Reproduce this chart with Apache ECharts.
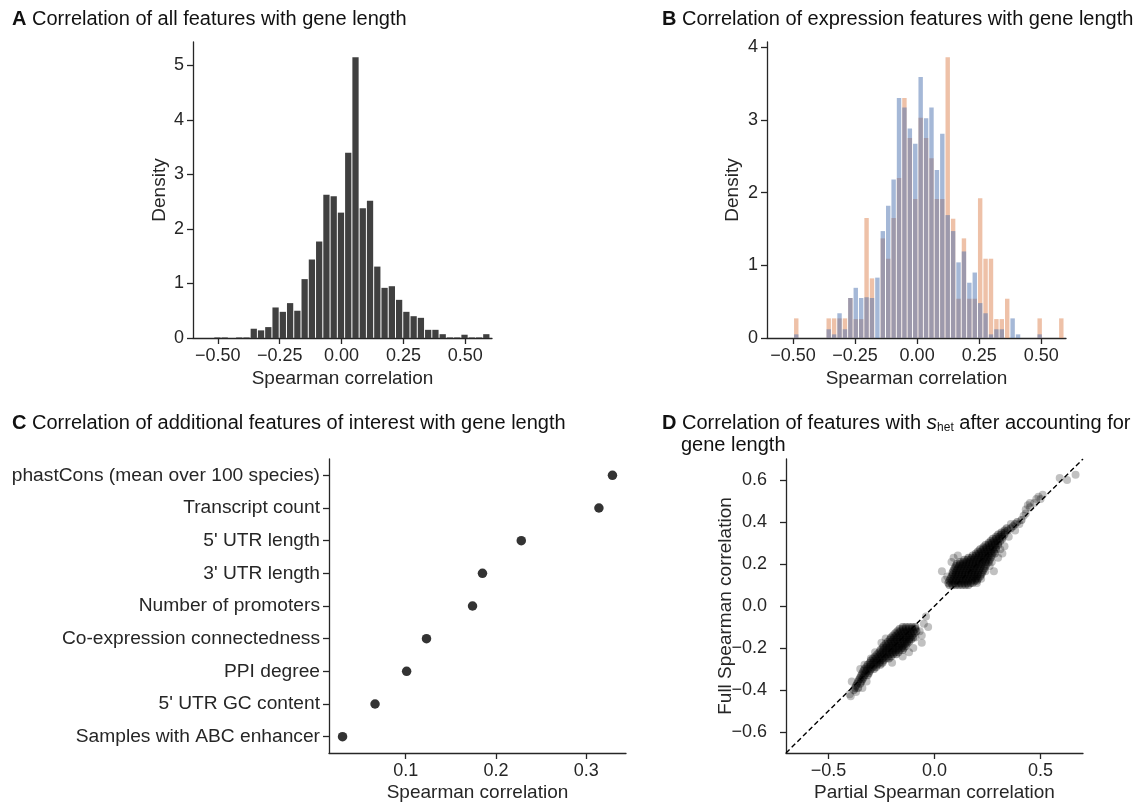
<!DOCTYPE html>
<html><head><meta charset="utf-8">
<script src="https://cdn.jsdelivr.net/npm/echarts@6/dist/echarts.min.js"></script>
<style>html,body{margin:0;padding:0;background:#fff}#c{width:1141px;height:806px}</style>
</head><body><div id="c"></div>
<script>
// ---------- Panel A: all features ----------
const allBinStart = -0.516, allBinWidth = 0.02935;
const allDensity = [0.01,0.01,0,0.01,0.01,0.17,0.14,0.2,0.56,0.48,0.64,0.5,1.08,1.44,1.77,2.63,2.6,2.3,3.4,5.15,2.38,2.52,1.31,0.92,0.95,0.7,0.48,0.4,0.37,0.15,0.15,0.07,0.01,0.01,0.06,0.01,0.01,0.07];
// ---------- Panel B: expression features (two groups) ----------
const exprBinStart = -0.498, exprBinWidth = 0.0218;
const exprOrange = [0.27,0,0,0,0,0,0.27,0.27,0.27,0.27,0.55,0.26,0.26,1.65,0.82,0,1.37,1.09,1.65,2.2,3.3,2.75,1.91,3.03,2.75,2.47,1.91,1.91,3.86,1.64,0.54,1.37,0.54,0.54,1.92,1.09,1.09,0.26,0.26,0.54,0,0,0,0,0,0.27,0,0,0,0.27];
const exprBlue = [0.05,0,0,0,0,0,0.12,0.05,0.34,0.12,0.55,0.69,0.55,0.56,0.55,0.83,1.47,1.82,2.18,3.3,3.17,2.88,2.67,3.59,3.02,3.17,2.31,2.81,1.69,1.47,1.04,1.19,0.76,0.9,0.48,0.34,0.05,0.12,0.12,0,0.27,0.05,0,0,0,0.05,0,0,0,0];
const histXTicks = [-0.5,-0.25,0,0.25,0.5];
const histAYTicks = [0,1,2,3,4,5];
const histBYTicks = [0,1,2,3,4];
// ---------- Panel C ----------
const featureNames = ['phastCons (mean over 100 species)','Transcript count',"5' UTR length","3' UTR length",'Number of promoters','Co-expression connectedness','PPI degree',"5' UTR GC content",'Samples with ABC enhancer'];
const featureCorr = [0.329,0.314,0.228,0.185,0.174,0.123,0.101,0.066,0.030];
const featXTicks = [0.1,0.2,0.3];
// ---------- Panel D: partial vs full correlation ----------
const shetPosRows = [
 [0.10,[0.07,0.085,0.1,0.115,0.13,0.145,0.16]],
 [0.11,[0.065,0.08,0.095,0.11,0.125,0.14,0.155,0.17,0.18]],
 [0.12,[0.07,0.085,0.1,0.115,0.13,0.145,0.16,0.175,0.19,0.2]],
 [0.13,[0.075,0.09,0.105,0.12,0.135,0.15,0.165,0.18,0.195,0.205]],
 [0.14,[0.08,0.095,0.11,0.125,0.14,0.155,0.17,0.185,0.2,0.215]],
 [0.15,[0.085,0.1,0.115,0.13,0.145,0.16,0.175,0.19,0.205,0.22]],
 [0.16,[0.085,0.1,0.115,0.13,0.145,0.16,0.175,0.19,0.205,0.225]],
 [0.17,[0.09,0.105,0.12,0.135,0.15,0.165,0.18,0.195,0.21,0.23]],
 [0.18,[0.095,0.11,0.125,0.14,0.155,0.17,0.185,0.2,0.215,0.235]],
 [0.19,[0.1,0.115,0.13,0.145,0.16,0.175,0.19,0.205,0.22,0.24]],
 [0.20,[0.105,0.12,0.135,0.15,0.165,0.18,0.195,0.21,0.225,0.245]],
 [0.21,[0.12,0.135,0.15,0.165,0.18,0.195,0.21,0.225,0.24,0.255]],
 [0.22,[0.14,0.155,0.17,0.185,0.2,0.215,0.23,0.245,0.26]],
 [0.23,[0.16,0.175,0.19,0.205,0.22,0.235,0.25,0.265]],
 [0.24,[0.18,0.195,0.21,0.225,0.24,0.255,0.27]],
 [0.25,[0.195,0.21,0.225,0.24,0.255,0.27,0.285]],
 [0.26,[0.205,0.22,0.235,0.25,0.265,0.28]],
 [0.27,[0.215,0.23,0.245,0.26,0.275,0.29]],
 [0.28,[0.23,0.245,0.26,0.275,0.29]],
 [0.29,[0.24,0.255,0.27,0.285,0.3]],
 [0.30,[0.255,0.27,0.285,0.3]],
 [0.31,[0.265,0.28,0.295,0.31]],
 [0.32,[0.275,0.29,0.305,0.32]],
 [0.33,[0.29,0.305,0.32]],
 [0.34,[0.3,0.315,0.33]],
 [0.35,[0.315,0.33]],
 [0.36,[0.33,0.345]],
 [0.37,[0.34,0.36]],
 [0.38,[0.37]],
 [0.39,[0.38]],
 [0.40,[0.39]],
 [0.41,[0.41]]
];
const shetPosExtra = [[0.035,0.165],[0.05,0.125],[0.06,0.14],[0.08,0.21],[0.09,0.23],[0.11,0.24],[0.24,0.165],[0.26,0.19],[0.27,0.21],[0.3,0.23],[0.32,0.25],[0.33,0.285],[0.31,0.27],[0.28,0.165],[0.22,0.13],[0.2,0.11],[0.36,0.39],[0.38,0.36],[0.35,0.33],[0.42,0.43],[0.43,0.46],[0.44,0.48],[0.45,0.47],[0.45,0.49],[0.47,0.49],[0.48,0.51],[0.49,0.52],[0.51,0.53],[0.5,0.51],[0.43,0.44],[0.59,0.61],[0.625,0.6],[0.665,0.625],[0.4,0.39]];
const shetNegRows = [
 [-0.10,[-0.15,-0.135,-0.12,-0.105,-0.09]],
 [-0.11,[-0.165,-0.15,-0.135,-0.12,-0.105,-0.09]],
 [-0.12,[-0.175,-0.16,-0.145,-0.13,-0.115,-0.1,-0.085]],
 [-0.13,[-0.185,-0.17,-0.155,-0.14,-0.125,-0.11,-0.095]],
 [-0.14,[-0.195,-0.18,-0.165,-0.15,-0.135,-0.12,-0.105]],
 [-0.15,[-0.205,-0.19,-0.175,-0.16,-0.145,-0.13,-0.115,-0.1]],
 [-0.16,[-0.21,-0.195,-0.18,-0.165,-0.15,-0.135,-0.12,-0.11]],
 [-0.17,[-0.22,-0.205,-0.19,-0.175,-0.16,-0.145,-0.13,-0.12]],
 [-0.18,[-0.23,-0.215,-0.2,-0.185,-0.17,-0.155,-0.14,-0.13]],
 [-0.19,[-0.24,-0.225,-0.21,-0.195,-0.18,-0.165,-0.15,-0.135]],
 [-0.20,[-0.245,-0.23,-0.215,-0.2,-0.185,-0.17,-0.155,-0.145]],
 [-0.21,[-0.255,-0.24,-0.225,-0.21,-0.195,-0.18,-0.165,-0.15]],
 [-0.22,[-0.26,-0.245,-0.23,-0.215,-0.2,-0.185,-0.17]],
 [-0.23,[-0.27,-0.255,-0.24,-0.225,-0.21,-0.195,-0.18]],
 [-0.24,[-0.28,-0.265,-0.25,-0.235,-0.22,-0.205]],
 [-0.25,[-0.29,-0.275,-0.26,-0.245,-0.23,-0.215]],
 [-0.26,[-0.3,-0.285,-0.27,-0.255,-0.24]],
 [-0.27,[-0.305,-0.29,-0.275,-0.26,-0.245]],
 [-0.28,[-0.315,-0.3,-0.285,-0.27,-0.255]],
 [-0.29,[-0.32,-0.305,-0.29,-0.275]],
 [-0.30,[-0.33,-0.315,-0.3,-0.285]],
 [-0.31,[-0.335,-0.32,-0.305]],
 [-0.32,[-0.34,-0.325,-0.31]],
 [-0.33,[-0.345,-0.33,-0.315]],
 [-0.34,[-0.35,-0.335]],
 [-0.35,[-0.355,-0.34]],
 [-0.36,[-0.36,-0.345]],
 [-0.37,[-0.365,-0.35]],
 [-0.38,[-0.37]],
 [-0.39,[-0.375,-0.36]],
 [-0.40,[-0.38]]
];
const shetNegExtra = [[-0.04,-0.05],[-0.03,-0.1],[-0.05,-0.085],[-0.06,-0.175],[-0.07,-0.12],[-0.06,-0.14],[-0.25,-0.175],[-0.23,-0.155],[-0.28,-0.22],[-0.3,-0.25],[-0.33,-0.28],[-0.35,-0.3],[-0.39,-0.36],[-0.4,-0.42],[-0.395,-0.43],[-0.37,-0.41],[-0.34,-0.39],[-0.32,-0.36],[-0.1,-0.2],[-0.12,-0.22],[-0.15,-0.24],[-0.2,-0.27],[-0.09,-0.15]];
const shetXTicks = [-0.5,0,0.5];
const shetYTicks = [-0.6,-0.4,-0.2,0,0.2,0.4,0.6];
const identityLine = [[-0.7,-0.7],[0.7,0.7]];

// ---------- build ----------
const FONT = "'Liberation Sans', Arial, sans-serif";
const INK = '#262626';
function rowsToPoints(rows){ const out=[]; rows.forEach(r=>r[1].forEach(x=>out.push([x,r[0]]))); return out; }
function binData(start,w,vals){ return vals.map((v,i)=>[start+i*w,start+(i+1)*w,v]).filter(d=>d[2]>0); }
const fmt = d => v => (v<0?'\u2212':'') + Math.abs(v).toFixed(d);
function histRender(fill){
  return function(params, api){
    const a = api.coord([api.value(0), api.value(2)]);
    const b = api.coord([api.value(1), 0]);
    return {type:'rect', shape:{x:a[0]+0.5, y:a[1], width:Math.max(0,b[0]-a[0]-1), height:b[1]-a[1]}, style:{fill:fill}};
  };
}
function valAxis(gridIndex, min, max, ticks, formatter, extra){
  return Object.assign({
    type:'value', gridIndex, min, max,
    axisLine:{show:true,onZero:false,lineStyle:{color:INK,width:1.3}},
    axisTick:{show:true,length:6,customValues:ticks,lineStyle:{color:INK,width:1.3}},
    axisLabel:{customValues:ticks,formatter,color:INK,fontSize:18,fontFamily:FONT,margin:9},
    splitLine:{show:false},
    nameLocation:'middle',
    nameMoveOverlap:false,
    nameTextStyle:{color:INK,fontSize:19,fontFamily:FONT}
  }, extra||{});
}
const chart = echarts.init(document.getElementById('c'), null, {renderer:'canvas'});
const titleStyle = {fontSize:20, fontFamily:FONT, fill:'#111'};
const rich = {
  b:{fontWeight:'bold',fontSize:20,fontFamily:FONT,fill:'#111'},
  i:{fontStyle:'italic',fontSize:21,fontFamily:FONT,fill:'#111'},
  sub:{fontSize:12,fontFamily:FONT,fill:'#111',verticalAlign:'bottom',lineHeight:12}
};
function title(x,y,text){ return {type:'text', x, y, style:Object.assign({text, rich, verticalAlign:'middle', align:'left'}, titleStyle)}; }

const option = {
  animation:false,
  backgroundColor:'#fff',
  graphic:[
    title(12,19.5,'{b|A} Correlation of all features with gene length'),
    title(662,19.5,'{b|B} Correlation of expression features with gene length'),
    title(12,423,'{b|C} Correlation of additional features of interest with gene length'),
    title(662,423,'{b|D} Correlation of features with {i|s}{sub|het} after accounting for'),
    title(681,445,'gene length')
  ],
  grid:[
    {left:193,top:42,width:299,height:296},
    {left:767,top:42,width:299,height:296},
    {left:329,top:459,width:297,height:294},
    {left:786,top:459,width:297,height:294}
  ],
  xAxis:[
    valAxis(0,-0.6,0.6076,histXTicks,fmt(2),{name:'Spearman correlation',nameGap:31}),
    valAxis(1,-0.605,0.6,histXTicks,fmt(2),{name:'Spearman correlation',nameGap:31}),
    valAxis(2,0.015,0.344,featXTicks,fmt(1),{name:'Spearman correlation',nameGap:30}),
    valAxis(3,-0.7,0.7,shetXTicks,fmt(1),{name:'Partial Spearman correlation',nameGap:30})
  ],
  yAxis:[
    valAxis(0,0,5.43,histAYTicks,fmt(0),{name:'Density',nameGap:24}),
    valAxis(1,0,4.07,histBYTicks,fmt(0),{name:'Density',nameGap:25}),
    {type:'category',gridIndex:2,data:featureNames,inverse:true,boundaryGap:true,
     axisLine:{show:true,lineStyle:{color:INK,width:1.3}},
     axisTick:{show:true,length:6,alignWithLabel:true,lineStyle:{color:INK,width:1.3}},
     axisLabel:{color:INK,fontSize:19.2,fontFamily:FONT,margin:9},
     splitLine:{show:false}},
    valAxis(3,-0.7,0.7,shetYTicks,fmt(1),{name:'Full Spearman correlation',nameGap:51,
      axisLabel:{customValues:shetYTicks,formatter:fmt(1),color:INK,fontSize:18,fontFamily:FONT,margin:19}})
  ],
  series:[
    {type:'custom',xAxisIndex:0,yAxisIndex:0,renderItem:histRender('#404040'),encode:{x:[0,1],y:2},data:binData(allBinStart,allBinWidth,allDensity),clip:false,silent:true},
    {type:'custom',xAxisIndex:1,yAxisIndex:1,renderItem:histRender('rgba(221,132,82,0.5)'),encode:{x:[0,1],y:2},data:binData(exprBinStart,exprBinWidth,exprOrange),clip:false,silent:true,z:2},
    {type:'custom',xAxisIndex:1,yAxisIndex:1,renderItem:histRender('rgba(76,114,176,0.5)'),encode:{x:[0,1],y:2},data:binData(exprBinStart,exprBinWidth,exprBlue),clip:false,silent:true,z:3},
    {type:'scatter',xAxisIndex:2,yAxisIndex:2,data:featureCorr.map((v,i)=>[v,featureNames[i]]),symbolSize:9.5,itemStyle:{color:'#000'},silent:true},
    {type:'scatter',xAxisIndex:3,yAxisIndex:3,data:shetPosExtra.concat(shetNegExtra),symbolSize:8,itemStyle:{color:'rgba(0,0,0,0.3)'},silent:true,large:false},
    {type:'scatter',xAxisIndex:3,yAxisIndex:3,data:rowsToPoints(shetPosRows).concat(rowsToPoints(shetNegRows)),symbolSize:8,itemStyle:{color:'rgba(0,0,0,0.45)'},silent:true,large:false},
    {type:'line',xAxisIndex:3,yAxisIndex:3,data:identityLine,symbol:'none',lineStyle:{color:'#000',width:1.4,type:[5,3]},z:5,silent:true}
  ]
};
chart.setOption(option);
</script></body></html>
